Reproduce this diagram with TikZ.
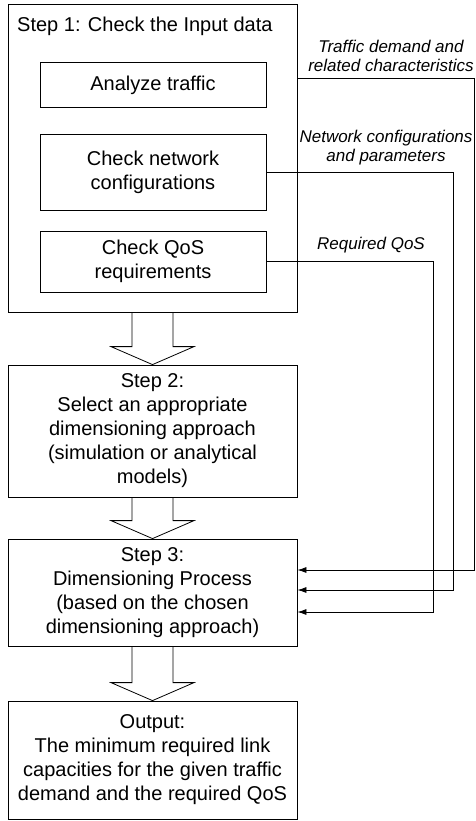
\documentclass[tikz,border=0pt]{standalone}
\usepackage{fontspec}
\setmainfont{Liberation Sans}
\usetikzlibrary{arrows.meta}
\usetikzlibrary{calc}

\tikzset{
  stepbox/.style={draw, line width=0.8pt, minimum width=289pt, align=center, inner sep=2pt, font=\fontsize{20}{24}\selectfont},
  taskbox/.style={draw, line width=0.8pt, minimum width=226pt, align=center, inner sep=2pt, font=\fontsize{20}{24}\selectfont},
  flowlabel/.style={align=center, inner sep=0pt, font=\fontsize{17}{19}\selectfont\itshape},
  feed/.style={line width=0.8pt, -{Latex[length=9pt,width=6pt]}},
}
\newcommand{\blockarrow}[2]{%
  \draw[line width=0.8pt] ($(#1.south)+(-20.5,0)$) -- ($(#2.north)+(-20.5,-18)$)
    -- ($(#2.north)+(-41.5,-18)$) -- (#2.north) -- ($(#2.north)+(41.5,-18)$)
    -- ($(#2.north)+(20.5,-18)$) -- ($(#1.south)+(20.5,0)$);}

\begin{document}
\begin{tikzpicture}[x=1pt,y=-1pt]
                    \useasboundingbox (0,0) rectangle (475,821);
                    % step 1 with its three checks
                    \node[stepbox, minimum height=308pt] (s1) at (152.5,158) {};
                    \node[anchor=base west, inner sep=0pt, font=\fontsize{20}{24}\selectfont] (s1title) at (17,32) {Step 1: Check the Input data};
                    \node[taskbox, minimum height=45pt] (at) at (153,85) {Analyze traffic};
                    \node[taskbox, minimum height=76pt] (cn) at (153,172) {Check network\\configurations};
                    \node[taskbox, minimum height=61pt] (cq) at (153,261.5) {Check QoS\\requirements};
                    % steps 2, 3 and output
                    \node[stepbox, minimum height=132pt] (s2) at (152.5,431) {Step 2:\\Select an appropriate\\dimensioning approach\\(simulation or analytical\\models)};
                    \node[stepbox, minimum height=107pt] (s3) at (152.5,592.5) {Step 3:\\Dimensioning Process\\(based on the chosen\\dimensioning approach)};
                    \node[stepbox, minimum height=118pt] (out) at (152.5,760) {Output:\\The minimum required link\\capacities for the given traffic\\demand and the required QoS};
                    \blockarrow{s1}{s2}
                    \blockarrow{s2}{s3}
                    \blockarrow{s3}{out}
                    % inputs fed to step 3
                    \draw[feed] ($(s1.east |- at.east)+(0,-7)$) -- ++(177,0) |- ($(s3.east)+(0,-22.5)$);
                    \draw[feed] (cn.east) -- ++(187,0) |- ($(s3.east)+(0,-2.5)$);
                    \draw[feed] (cq.east) -- ++(167,0) |- ($(s3.east)+(0,19.5)$);
                    \node[flowlabel] (tdlabel) at (391,56) {Traffic demand and\\related characteristics};
                    \node[flowlabel] (nclabel) at (386,148) {Network configurations\\and parameters};
                    \node[flowlabel] (qoslabel) at (371,245) {Required QoS};
                \end{tikzpicture}
\end{document}
